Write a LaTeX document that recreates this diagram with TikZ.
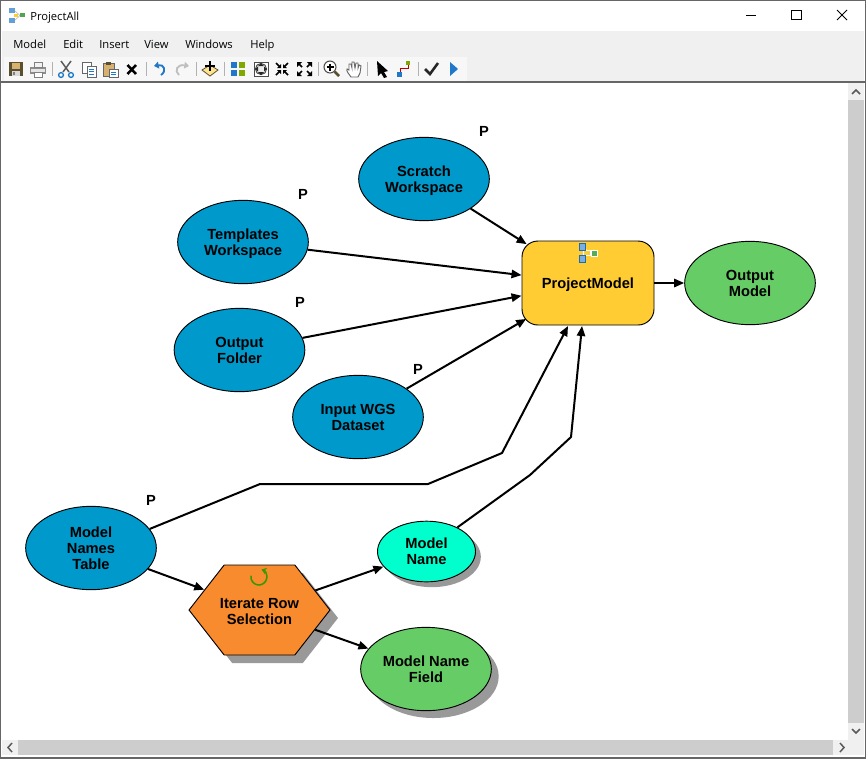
\documentclass[tikz,border=0pt]{standalone}
\usepackage{fontspec}
\setmainfont{Liberation Sans}
\newfontfamily\uifont{Open Sans}
\usetikzlibrary{shapes.geometric,shapes.symbols,shadows,arrows.meta}
\definecolor{bluenode}{HTML}{0099CC}
\definecolor{greennode}{HTML}{66CC66}
\definecolor{cyannode}{HTML}{00FFCC}
\definecolor{orangenode}{HTML}{F78B2D}
\definecolor{yellownode}{HTML}{FFCC33}
\definecolor{shade}{HTML}{999999}
\definecolor{chrome}{HTML}{F0F0F0}
\definecolor{thumb}{HTML}{CDCDCD}
\definecolor{icblue}{HTML}{1F78C8}
\definecolor{icgreen}{HTML}{7FA800}
\definecolor{icolive}{HTML}{5A5030}
\definecolor{ictan}{HTML}{D8B070}
\tikzset{
 lbl/.style={font=\bfseries\fontsize{11}{12}\selectfont,align=center,inner sep=0pt,text=black},
 oval/.style={ellipse,draw=black,line width=0.7pt,lbl,minimum width=98pt,minimum height=62.5pt},
 dataoval/.style={oval,fill=bluenode},
 outoval/.style={oval,fill=greennode},
 pmark/.style={font=\bfseries\fontsize{11}{12}\selectfont,inner sep=0pt},
 conn/.style={draw=black,line width=1.5pt,-{Triangle[length=7.5pt,width=6.2pt]}},
 menuitem/.style={font=\uifont\fontsize{8.4}{10}\selectfont,inner sep=0pt,anchor=base west,text=black},
 sep/.style={draw=black!30,line width=0.6pt},
 icon/.style={line width=0.9pt},
}
\begin{document}
\begin{tikzpicture}[x=0.75pt,y=-0.75pt]
\useasboundingbox (0,0) rectangle (866,758);
% window chrome
\fill[white] (0,0) rectangle (866,758);
\fill[chrome] (2,31) rectangle (864,82);
\fill[black!3] (4,57) rectangle (467,81);
\draw[black!60,line width=1.5pt] (0,0) rectangle (866,758);
\draw[black!60,line width=1.2pt] (1,82) -- (865,82);
% scrollbars
\fill[chrome] (848,83) rectangle (864,740);
\fill[thumb] (848,100) rectangle (864,723);
\fill[chrome] (2,740) rectangle (864,755);
\fill[thumb] (18,740) rectangle (833,755);
\draw[black!65,line width=1.1pt] (852,94) -- (856,90) -- (860,94);
\draw[black!65,line width=1.1pt] (852,729) -- (856,733) -- (860,729);
\draw[black!65,line width=1.1pt] (12,743) -- (8,747.5) -- (12,752);
\draw[black!65,line width=1.1pt] (840,743) -- (844,747.5) -- (840,752);
% title bar
\node[font=\uifont\fontsize{8.4}{10}\selectfont,inner sep=0pt,anchor=base west] (title) at (30,20) {ProjectAll};
\draw[black!25,line width=0.5pt] (15,11) -- (20,15.5) -- (15,20);
\fill[icblue!70] (9,8) rectangle (15,13);
\fill[icblue!70] (9,18) rectangle (15,23);
\fill[yellownode] (14,13.5) rectangle (18,17);
\fill[greennode!80!black] (20,13) rectangle (25,17);
\draw[black,line width=0.7pt] (746,15) -- (756,15);
\draw[black,line width=0.7pt] (791.5,10.5) rectangle (801,19.5);
\draw[black,line width=0.6pt] (837,10) -- (847,20) (847,10) -- (837,20);
% menu
\node[menuitem] (m1) at (13,48) {Model};
\node[menuitem] (m2) at (63,48) {Edit};
\node[menuitem] (m3) at (99,48) {Insert};
\node[menuitem] (m4) at (144,48) {View};
\node[menuitem] (m5) at (185,48) {Windows};
\node[menuitem] (m6) at (250,48) {Help};
% toolbar icons
\fill[icolive] (9,62) rectangle (23,76);
\fill[ictan] (12,63) rectangle (20,68.5);
\fill[black!15] (12,71) rectangle (20,76);
\fill[black!50] (13,72) rectangle (15,75);
\fill[black!45] (30,67) rectangle (46,74);
\fill[black!10] (31,69) rectangle (45,72);
\draw[black!50,fill=black!5,line width=0.6pt] (34,62) rectangle (42,67);
\draw[black!50,fill=white,line width=0.6pt] (34,72) rectangle (42,77);
\draw[sep] (52,62) -- (52,76);
\draw[black!65,line width=1.1pt] (61,61) -- (69,72) (71,61) -- (63,72);
\draw[icblue,line width=1pt] (61,75) circle (2.4) (71,75) circle (2.4);
\draw[black!60,line width=0.7pt,fill=white] (82,62) rectangle (91,73);
\draw[black!60,line width=0.7pt,fill=white] (87,66) rectangle (96,77);
\draw[icblue,line width=0.6pt] (89,69) -- (94,69) (89,71.5) -- (94,71.5) (89,74) -- (94,74);
\draw[black!60,line width=0.7pt,fill=ictan] (103,63) rectangle (114,76);
\fill[icolive] (106,62) rectangle (111,65);
\draw[black!60,line width=0.7pt,fill=white] (109,69) rectangle (118,77);
\draw[icblue,line width=0.6pt] (111,72) -- (116,72) (111,74.5) -- (116,74.5);
\draw[black,line width=1.9pt] (127.5,65) -- (136,74) (136,65) -- (127.5,74);
\draw[sep] (146,62) -- (146,76);
\draw[icblue,line width=1.4pt,-{Triangle[length=3.5pt,width=5pt]}] (161,75) .. controls (167,71) and (164,64) .. (154,66);
\draw[black!25,line width=1.4pt,-{Triangle[length=3.5pt,width=5pt]}] (179,75) .. controls (174,71) and (177,64) .. (189,66);
\draw[sep] (196,62) -- (196,76);
\draw[icolive,fill=yellownode!55,line width=0.6pt] (202,70) -- (210,65) -- (218,70) -- (210,76) -- cycle;
\draw[black,line width=1.6pt] (210,61) -- (210,71) (205,66) -- (215,66);
\draw[sep] (224,62) -- (224,76);
\fill[icblue] (231,62) rectangle (237,68);
\fill[icblue] (231,70) rectangle (237,76);
\fill[icgreen] (239,62) rectangle (245,68);
\fill[icgreen] (239,70) rectangle (245,76);
\draw[black!70,fill=white,line width=0.7pt] (254,62) rectangle (268,76);
\draw[black!70,fill=black!8,line width=0.7pt] (261,69) circle (5.6);
\fill[black!85] (261,63) -- (264,66) -- (258,66) -- cycle (261,75) -- (264,72) -- (258,72) -- cycle (255,69) -- (258,66.5) -- (258,71.5) -- cycle (267,69) -- (264,66.5) -- (264,71.5) -- cycle;
\draw[black,line width=1.3pt] (276,63) -- (280,67) (288,63) -- (284,67) (276,75) -- (280,71) (288,75) -- (284,71);
\fill[black] (281,68) -- (277,68) -- (281,64) -- cycle (283,68) -- (287,68) -- (283,64) -- cycle (281,70) -- (277,70) -- (281,74) -- cycle (283,70) -- (287,70) -- (283,74) -- cycle;
\draw[black,line width=1.3pt] (298,63) -- (302,67) (311,63) -- (307,67) (298,75) -- (302,71) (311,75) -- (307,71);
\fill[black] (297,62) -- (302,62) -- (297,67) -- cycle (312,62) -- (307,62) -- (312,67) -- cycle (297,76) -- (302,76) -- (297,71) -- cycle (312,76) -- (307,76) -- (312,71) -- cycle;
\draw[sep] (318,62) -- (318,76);
\draw[black!70,fill=white,line width=0.8pt] (330,67) circle (6);
\draw[black,line width=1pt] (326.5,67) -- (333.5,67) (330,63.5) -- (330,70.5);
\draw[icolive,line width=1.9pt] (334.5,71.5) -- (339,76);
\draw[black!60,fill=white,line width=0.7pt] (351,77) .. controls (349,74) and (346,71) .. (347,69) -- (349,70) -- (349,64) -- (351,64) -- (352,68) -- (352,62) -- (354,62) -- (355,68) -- (356,63) -- (358,63) -- (358,68) -- (359,65) -- (361,66) -- (360,73) -- (358,77) -- cycle;
\draw[sep] (367,62) -- (367,76);
\fill[black] (377,61) -- (388,71) -- (384,72) -- (387,77) -- (384,78) -- (381,73) -- (378,76) -- cycle;
\draw[red!75!black,line width=0.7pt] (400,73) -- (400,68) -- (408,68) -- (408,63);
\fill[icblue] (397,72) rectangle (402,77);
\fill[icgreen] (406,61) rectangle (410,65);
\draw[sep] (418,62) -- (418,76);
\draw[black!85,line width=1.9pt] (425,69) -- (430,74) -- (438,63);
\fill[icblue] (450,62) -- (458,69) -- (450,76) -- cycle;
% model canvas
\node[dataoval] (scratch) at (424,179) {Scratch\\Works\smash{p}ace};
\node[dataoval] (templates) at (243,242) {Templates\\Works\smash{p}ace};
\node[dataoval] (folder) at (239.5,350) {Output\\Folder};
\node[dataoval] (wgs) at (358,417) {Input WGS\\Dataset};
\node[dataoval] (table) at (91,548) {Model\\Names\\Table};
\node[rectangle,rounded corners=12pt,draw=black,line width=0.7pt,fill=yellownode,lbl,minimum width=99pt,minimum height=63pt] (pm) at (588,283) {Pro\smash{j}ectModel};
\node[outoval] (output) at (750,283) {Output\\Model};
\node[signal,signal to=east and west,signal pointer angle=104,draw=black,line width=0.7pt,fill=orangenode,lbl,minimum height=67.5pt,drop shadow={shadow xshift=6pt,shadow yshift=-6pt,fill=shade,opacity=1}] (iter) at (259.5,610) {\rule{0pt}{9.5pt}\makebox[53pt][c]{Iterate Row}\\\makebox[53pt][c]{Selection}};
\node[oval,fill=cyannode,minimum width=73.5pt,minimum height=45.5pt,drop shadow={shadow xshift=4pt,shadow yshift=-4pt,fill=shade,opacity=1}] (mname) at (426.5,551.5) {Model\\Name};
\node[outoval,drop shadow={shadow xshift=5.5pt,shadow yshift=-5.5pt,fill=shade,opacity=1}] (field) at (426,669) {Model Name\\Field};
% P marks
\node[pmark] (p1) at (484,131) {P};
\node[pmark] (p2) at (303,194) {P};
\node[pmark] (p3) at (300,302) {P};
\node[pmark] (p4) at (418,369) {P};
\node[pmark] (p5) at (151,500) {P};
% waypoints
\coordinate (a1) at (260,484);
\coordinate (a2) at (428,484);
\coordinate (a3) at (502,453);
\coordinate (a4) at (568,326);
\coordinate (b1) at (530,475);
\coordinate (b2) at (571,437);
\coordinate (b3) at (582,326);
% connectors
\draw[conn,shorten >=-4.5pt] (scratch) -- (pm);
\draw[conn] (templates) -- (pm);
\draw[conn] (folder) -- (pm);
\draw[conn,shorten >=-4pt] (wgs) -- (pm);
\draw[conn] (pm) -- (output);
\draw[conn] (table) -- (iter);
\draw[conn] (iter) -- (mname);
\draw[conn] (iter) -- (field);
\draw[conn,line join=round] (table.18) -- (a1) -- (a2) -- (a3) -- (a4);
\draw[conn,line join=round] (mname.38) -- (b1) -- (b2) -- (b3);
% small icons inside process nodes
\draw[white,line width=0.5pt] (584,247) -- (588,252) -- (584,256);
\draw[white,line width=0.5pt,fill=yellownode] (583,250) rectangle (590,255);
\draw[white,line width=0.5pt,fill=greennode!85!black] (591,250) rectangle (597,256);
\draw[icblue!90!black,line width=0.4pt,fill=icblue!60] (579,243) rectangle (585,250);
\draw[icblue!90!black,line width=0.4pt,fill=icblue!60] (579,255) rectangle (585,262);
\draw[green!50!black!80!yellow,line width=1.1pt,-{Stealth[length=3.5pt,width=5pt]}] (251,575.6) arc[start angle=170,end angle=430,radius=6pt];
\end{tikzpicture}
\end{document}
